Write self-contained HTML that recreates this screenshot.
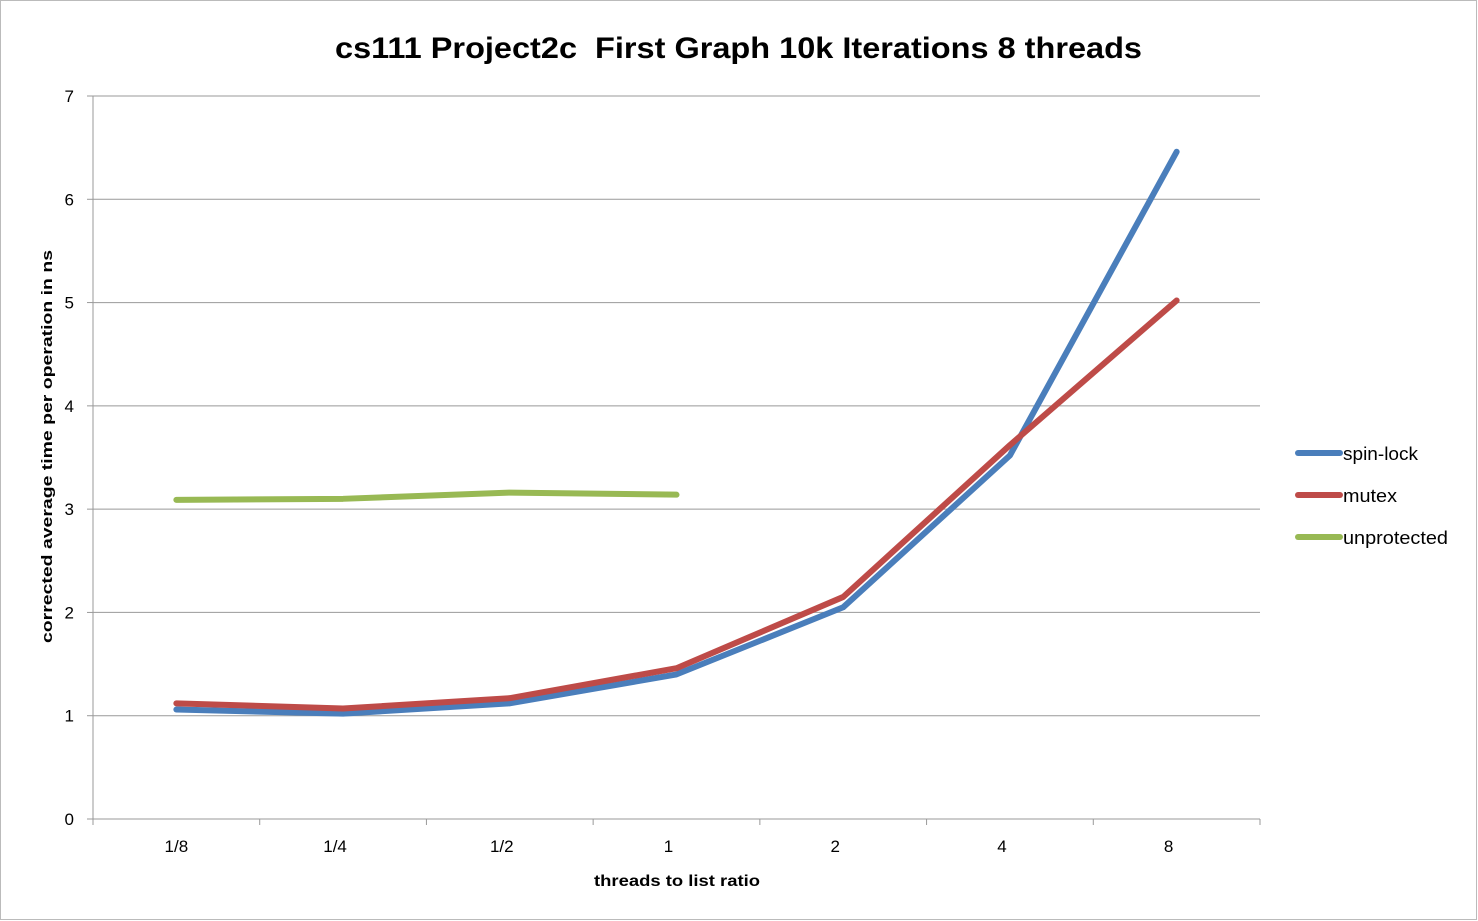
<!DOCTYPE html>
<html><head><meta charset="utf-8"><style>
body{margin:0;background:#fff}
svg{display:block;font-family:"Liberation Sans",sans-serif}
</style></head><body>
<svg id="chart" width="1478" height="921">
<rect x="0.5" y="0.5" width="1476" height="919" fill="#fff" stroke="#bbb"/>
<text x="335" y="58" font-size="30" font-weight="bold" textLength="807" lengthAdjust="spacingAndGlyphs" style="white-space:pre">cs111 Project2c  First Graph 10k Iterations 8 threads</text>
<g id="grid"></g>
<g id="series"></g>
<text x="594" y="886" font-size="16" font-weight="bold" textLength="166" lengthAdjust="spacingAndGlyphs">threads to list ratio</text>
<text transform="translate(52,643) rotate(-90)" font-size="15" font-weight="bold" textLength="393" lengthAdjust="spacingAndGlyphs">corrected average time per operation in ns</text>
<g id="legend"></g>
</svg>
<script>
const categories=["1/8","1/4","1/2","1","2","4","8"];
const spinLock=[1.06,1.02,1.12,1.40,2.05,3.52,6.46];
const mutex=[1.12,1.07,1.17,1.46,2.15,3.62,5.02];
const unprotected=[3.09,3.10,3.16,3.14,null,null,null];
const yTicks=[0,1,2,3,4,5,6,7];
const seriesNames=["spin-lock","mutex","unprotected"];
const NS="http://www.w3.org/2000/svg";
const L=93,R=1260,T=96,B=819,yMax=7;
const step=(R-L)/categories.length;
const xs=i=>L+step*(i+0.5);
const ys=v=>B-(v/yMax)*(B-T);
function mk(tag,attrs,parent){const e=document.createElementNS(NS,tag);for(const k in attrs)e.setAttribute(k,attrs[k]);parent.appendChild(e);return e;}
const grid=document.getElementById('grid');
yTicks.forEach(v=>{
  const y=ys(v);
  const l=mk('line',{x1:L,x2:R,y1:y,y2:y,stroke:'#999','stroke-width':1},grid);
  
  
  mk('line',{x1:L-6,x2:L,y1:y,y2:y,stroke:'#999'},grid);
  const t=mk('text',{x:74,y:y+6,'text-anchor':'end','font-size':17},grid);
  t.textContent=v;
  
  
});
const ya=mk('line',{x1:L,x2:L,y1:T,y2:B,stroke:'#999'},grid);


for(let i=0;i<=categories.length;i++){mk('line',{x1:L+step*i,x2:L+step*i,y1:B,y2:B+6,stroke:'#999'},grid);}
categories.forEach((c,i)=>{
  const t=mk('text',{x:xs(i)-8+(i===0?8:0),y:852,'text-anchor':'middle','font-size':17},grid);
  t.textContent=c;
  
  
});
const colors=["#4a7ebb","#be4b48","#98b954"];
const sg=document.getElementById('series');
[spinLock,mutex,unprotected].forEach((d,si)=>{
  const pts=[];d.forEach((v,i)=>{if(v!=null)pts.push(xs(i)+','+ys(v));});
  const p=mk('polyline',{points:pts.join(' '),fill:'none',stroke:colors[si],'stroke-width':6,'stroke-linejoin':'round','stroke-linecap':'round'},sg);
  
  
});
const lg=document.getElementById('legend');
const legendW=[75,54,105];
seriesNames.forEach((n,i)=>{
  const y=453+42*i;
  const l=mk('line',{x1:1298,x2:1340,y1:y,y2:y,stroke:colors[i],'stroke-width':6,'stroke-linecap':'round'},lg);
  
  
  const t=mk('text',{x:1343,y:y+7,'font-size':18,textLength:legendW[i],lengthAdjust:'spacingAndGlyphs'},lg);
  t.textContent=n;
  
  
});
</script>
</body></html>
